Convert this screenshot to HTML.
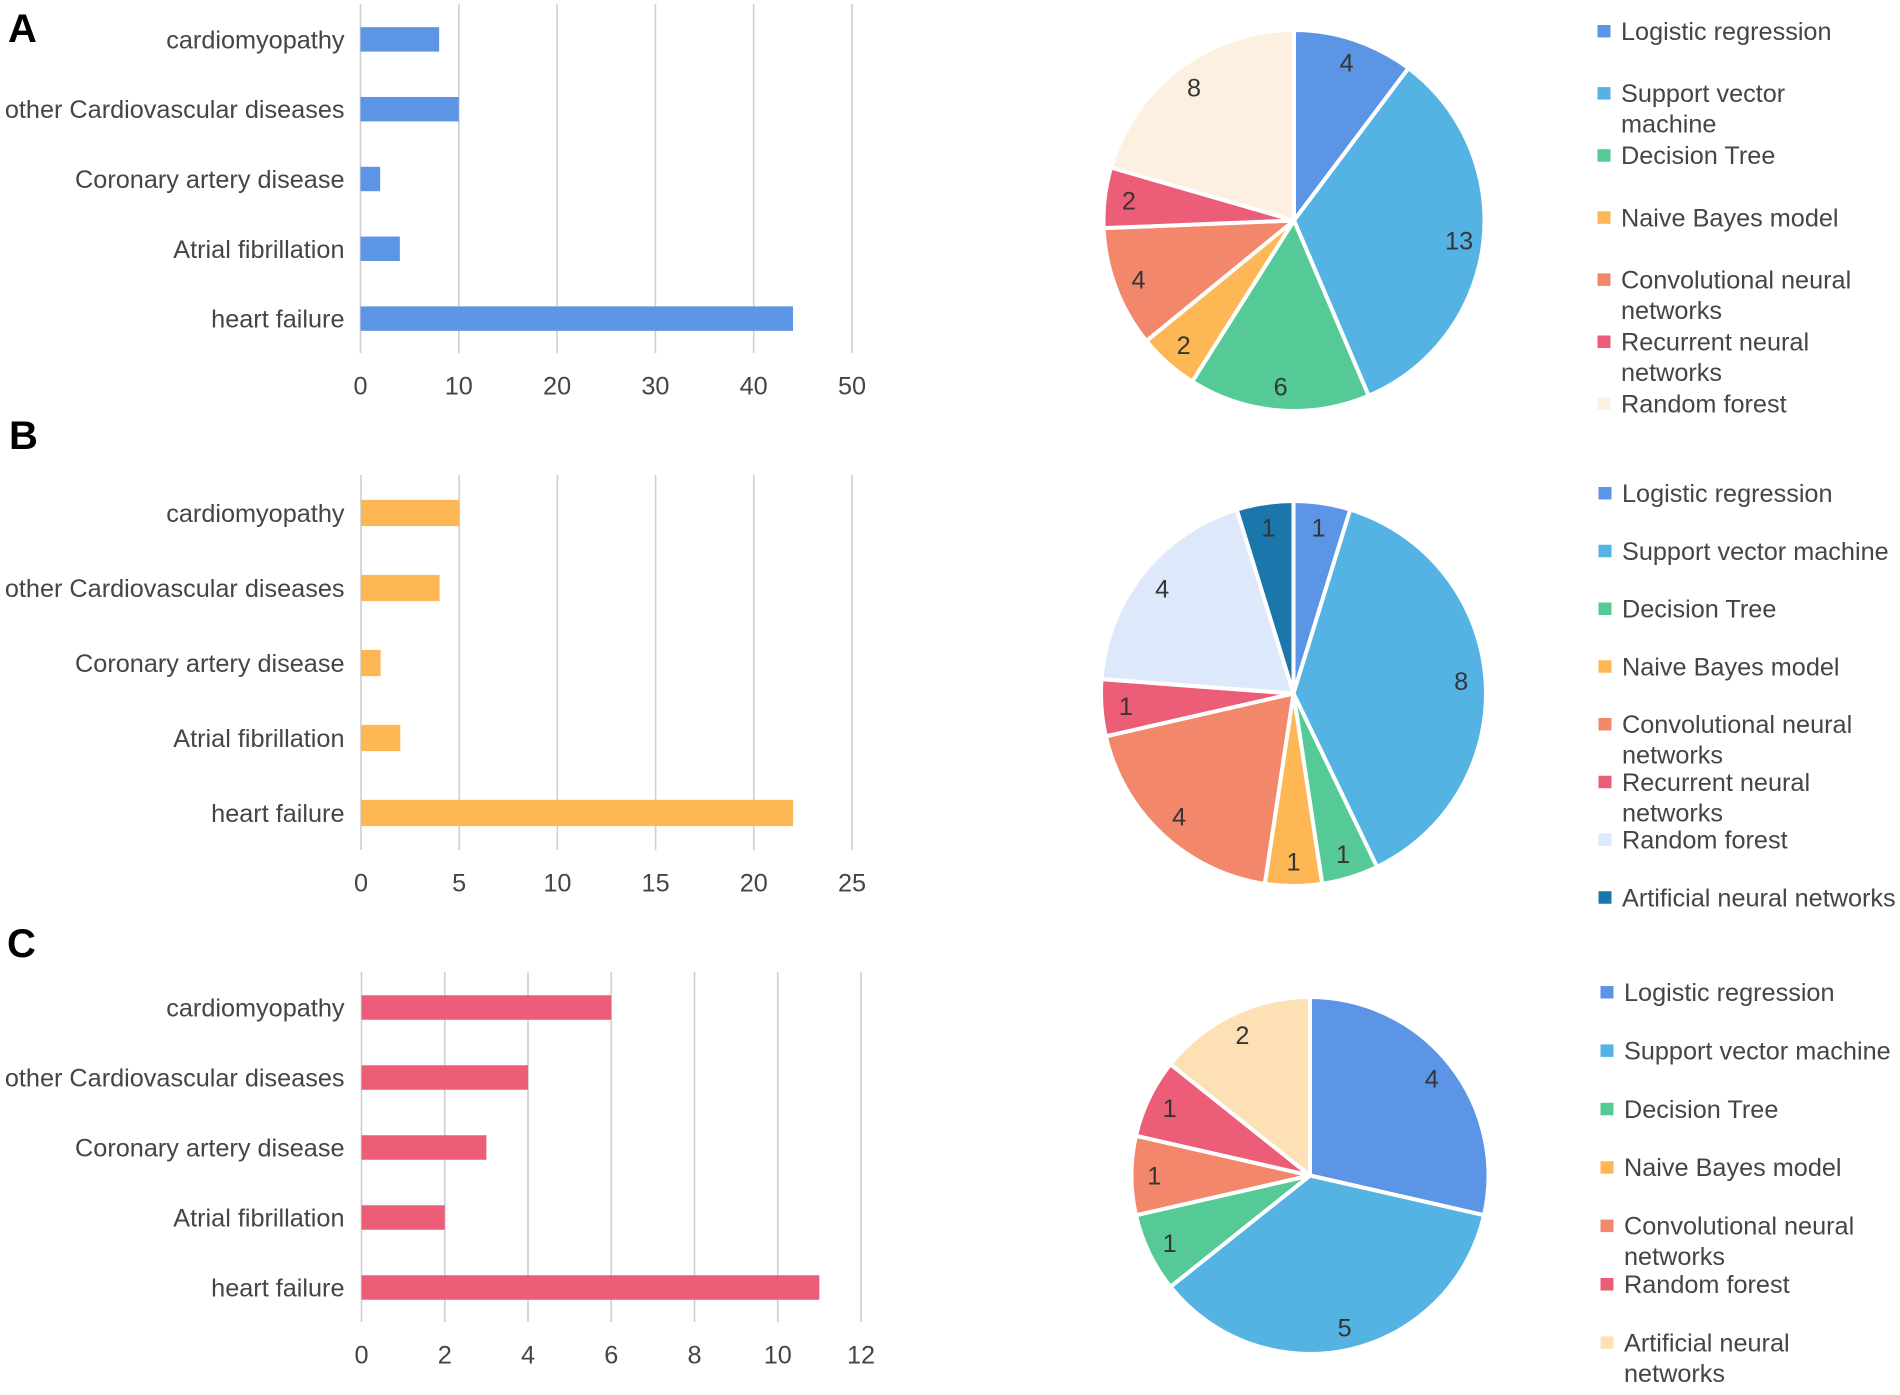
<!DOCTYPE html>
<html lang="en">
<head>
<meta charset="utf-8">
<title>Machine learning models by cardiovascular disease</title>
<style>
html,body{margin:0;padding:0;background:#fff;}
#figure{display:block;width:1900px;height:1395px;background:#fff;font-family:"Liberation Sans",Arial,sans-serif;}
text{font-family:"Liberation Sans",Arial,sans-serif;}
</style>
</head>
<body>
<svg id="figure" xmlns="http://www.w3.org/2000/svg" width="1900" height="1395" viewBox="0 0 1900 1395"></svg>
<script>
// ---- chart data ----
const categories = ['cardiomyopathy', 'other Cardiovascular diseases', 'Coronary artery disease', 'Atrial fibrillation', 'heart failure'];

const barValuesA = [8, 10, 2, 4, 44];
const barValuesB = [5, 4, 1, 2, 22];
const barValuesC = [6, 4, 3, 2, 11];

const tickLabelsA = [0, 10, 20, 30, 40, 50];
const tickLabelsB = [0, 5, 10, 15, 20, 25];
const tickLabelsC = [0, 2, 4, 6, 8, 10, 12];

const pieLabelsA = ['Logistic regression', 'Support vector|machine', 'Decision Tree', 'Naive Bayes model', 'Convolutional neural|networks', 'Recurrent neural|networks', 'Random forest'];
const pieValuesA = [4, 13, 6, 2, 4, 2, 8];
const pieColorsA = ['#5c95e6', '#55b3e3', '#55ca97', '#fdb755', '#f2876b', '#ec5d78', '#fef0e0'];

const pieLabelsB = ['Logistic regression', 'Support vector machine', 'Decision Tree', 'Naive Bayes model', 'Convolutional neural|networks', 'Recurrent neural|networks', 'Random forest', 'Artificial neural networks'];
const pieValuesB = [1, 8, 1, 1, 4, 1, 4, 1];
const pieColorsB = ['#5c95e6', '#55b3e3', '#55ca97', '#fdb755', '#f2876b', '#ec5d78', '#dde9fa', '#1b76ab'];

const pieLabelsC = ['Logistic regression', 'Support vector machine', 'Decision Tree', 'Naive Bayes model', 'Convolutional neural|networks', 'Random forest', 'Artificial neural|networks'];
const pieValuesC = [4, 5, 1, 0, 1, 1, 2];
const pieColorsC = ['#5c95e6', '#55b3e3', '#55ca97', '#fdb755', '#f2876b', '#ec5d78', '#fee0b5'];

// ---- panel layout ----
const layoutA = {
  letter: 'A', letterX: 8, letterY: 42, barColor: '#5c95e6',
  left: 360.5, right: 852, top: 4, bottom: 353, tickY: 386,
  cx: 1294, cy: 220.5, r: 189,
  swatchX: 1597.5, textX: 1621, legendY: 31.5, legendStep: 62.1
};
const layoutB = {
  letter: 'B', letterX: 9, letterY: 449, barColor: '#fdb755',
  left: 361, right: 852, top: 475, bottom: 850, tickY: 883,
  cx: 1293.5, cy: 693.5, r: 191,
  swatchX: 1598.5, textX: 1622, legendY: 493.5, legendStep: 57.75
};
const layoutC = {
  letter: 'C', letterX: 7, letterY: 957, barColor: '#ec5d78',
  left: 361.5, right: 861, top: 972, bottom: 1322, tickY: 1355,
  cx: 1310, cy: 1175.5, r: 177,
  swatchX: 1600.5, textX: 1624, legendY: 992.5, legendStep: 58.4
};

const SVG_NS = 'http://www.w3.org/2000/svg';
const figure = document.getElementById('figure');
const TEXT_COLOR = '#454545';
const FONT_SIZE = 25.25;

function make(tag, parent, attrs, content) {
  const node = document.createElementNS(SVG_NS, tag);
  Object.keys(attrs).forEach(function (k) { node.setAttribute(k, attrs[k]); });
  if (content !== undefined) node.textContent = content;
  parent.appendChild(node);
  return node;
}

function slug(s) {
  return String(s).toLowerCase().replace(/\|/g, ' ').replace(/[^a-z0-9]+/g, '-');
}

function drawBarChart(layout, values, ticks) {
  const key = layout.letter.toLowerCase();
  const group = make('g', figure, {});
  
  

  const maxTick = ticks[ticks.length - 1];
  const xScale = function (v) { return layout.left + v * (layout.right - layout.left) / maxTick; };
  const band = (layout.bottom - layout.top) / categories.length;
  const yScale = function (i) { return layout.top + band * (i + 0.5) + 0.5; };
  const barHeight = band * 0.35;

  ticks.forEach(function (t) {
    const line = make('line', group, { x1: xScale(t), x2: xScale(t), y1: layout.top, y2: layout.bottom, stroke: '#cfcfcf', 'stroke-width': 1.6 });
    
    
    const label = make('text', group, { x: xScale(t), y: layout.tickY + 8.5, 'text-anchor': 'middle', 'font-size': FONT_SIZE, fill: TEXT_COLOR }, String(t));
    
    
  });

  categories.forEach(function (c, i) {
    const bar = make('rect', group, { x: xScale(0), y: yScale(i) - barHeight / 2, width: xScale(values[i]) - xScale(0), height: barHeight, fill: layout.barColor });
    
    
    const label = make('text', group, { x: 344.5, y: yScale(i) + 9, 'text-anchor': 'end', 'font-size': FONT_SIZE, fill: TEXT_COLOR }, c);
    
    
  });
}

function drawPie(layout, values, colors, labels) {
  const key = layout.letter.toLowerCase();
  const group = make('g', figure, {});
  
  

  const total = values.reduce(function (a, b) { return a + b; }, 0);
  const point = function (deg, rad) {
    const a = deg * Math.PI / 180;
    return [layout.cx + rad * Math.sin(a), layout.cy - rad * Math.cos(a)];
  };

  let cumulative = 0;
  const labelJobs = [];
  values.forEach(function (v, i) {
    if (v > 0) {
      const startAngle = cumulative / total * 360;
      const endAngle = (cumulative + v) / total * 360;
      const p0 = point(startAngle, layout.r + 1.5);
      const p1 = point(endAngle, layout.r + 1.5);
      const large = endAngle - startAngle > 180 ? 1 : 0;
      const d = 'M' + layout.cx + ' ' + layout.cy + ' L' + p0[0] + ' ' + p0[1] +
        ' A' + (layout.r + 1.5) + ' ' + (layout.r + 1.5) + ' 0 ' + large + ' 1 ' + p1[0] + ' ' + p1[1] + ' Z';
      const slice = make('path', group, { d: d, fill: colors[i], stroke: '#ffffff', 'stroke-width': 4, 'stroke-linejoin': 'round' });
      
      
      labelJobs.push({ v: v, i: i, at: point((startAngle + endAngle) / 2, layout.r * 0.88) });
    }
    cumulative += v;
  });

  labelJobs.forEach(function (job) {
    const valueLabel = make('text', group, { x: job.at[0], y: job.at[1] + 9, 'text-anchor': 'middle', 'font-size': FONT_SIZE, fill: '#353535' }, String(job.v));
    
    
  });
}

function drawLegend(layout, labels, colors) {
  const key = layout.letter.toLowerCase();
  const group = make('g', figure, {});
  
  

  labels.forEach(function (label, i) {
    const rowY = layout.legendY + i * layout.legendStep;
    const entry = make('g', group, {});
    
    
    const swatch = make('rect', entry, { x: layout.swatchX, y: rowY - 6.5, width: 13, height: 12.5, fill: colors[i] });
    
    
    label.split('|').forEach(function (lineText, lineIndex) {
      const line = make('text', entry, { x: layout.textX, y: rowY + 8.5 + lineIndex * 30.5, 'font-size': FONT_SIZE, fill: TEXT_COLOR }, lineText);
      
      
    });
  });
}

function drawPanelLetter(layout) {
  const letter = make('text', figure, { x: layout.letterX, y: layout.letterY, 'font-size': 40, 'font-weight': 'bold', fill: '#000000' }, layout.letter);
  
  
}

drawPanelLetter(layoutA);
drawBarChart(layoutA, barValuesA, tickLabelsA);
drawPie(layoutA, pieValuesA, pieColorsA, pieLabelsA);
drawLegend(layoutA, pieLabelsA, pieColorsA);

drawPanelLetter(layoutB);
drawBarChart(layoutB, barValuesB, tickLabelsB);
drawPie(layoutB, pieValuesB, pieColorsB, pieLabelsB);
drawLegend(layoutB, pieLabelsB, pieColorsB);

drawPanelLetter(layoutC);
drawBarChart(layoutC, barValuesC, tickLabelsC);
drawPie(layoutC, pieValuesC, pieColorsC, pieLabelsC);
drawLegend(layoutC, pieLabelsC, pieColorsC);
</script>
</body>
</html>
